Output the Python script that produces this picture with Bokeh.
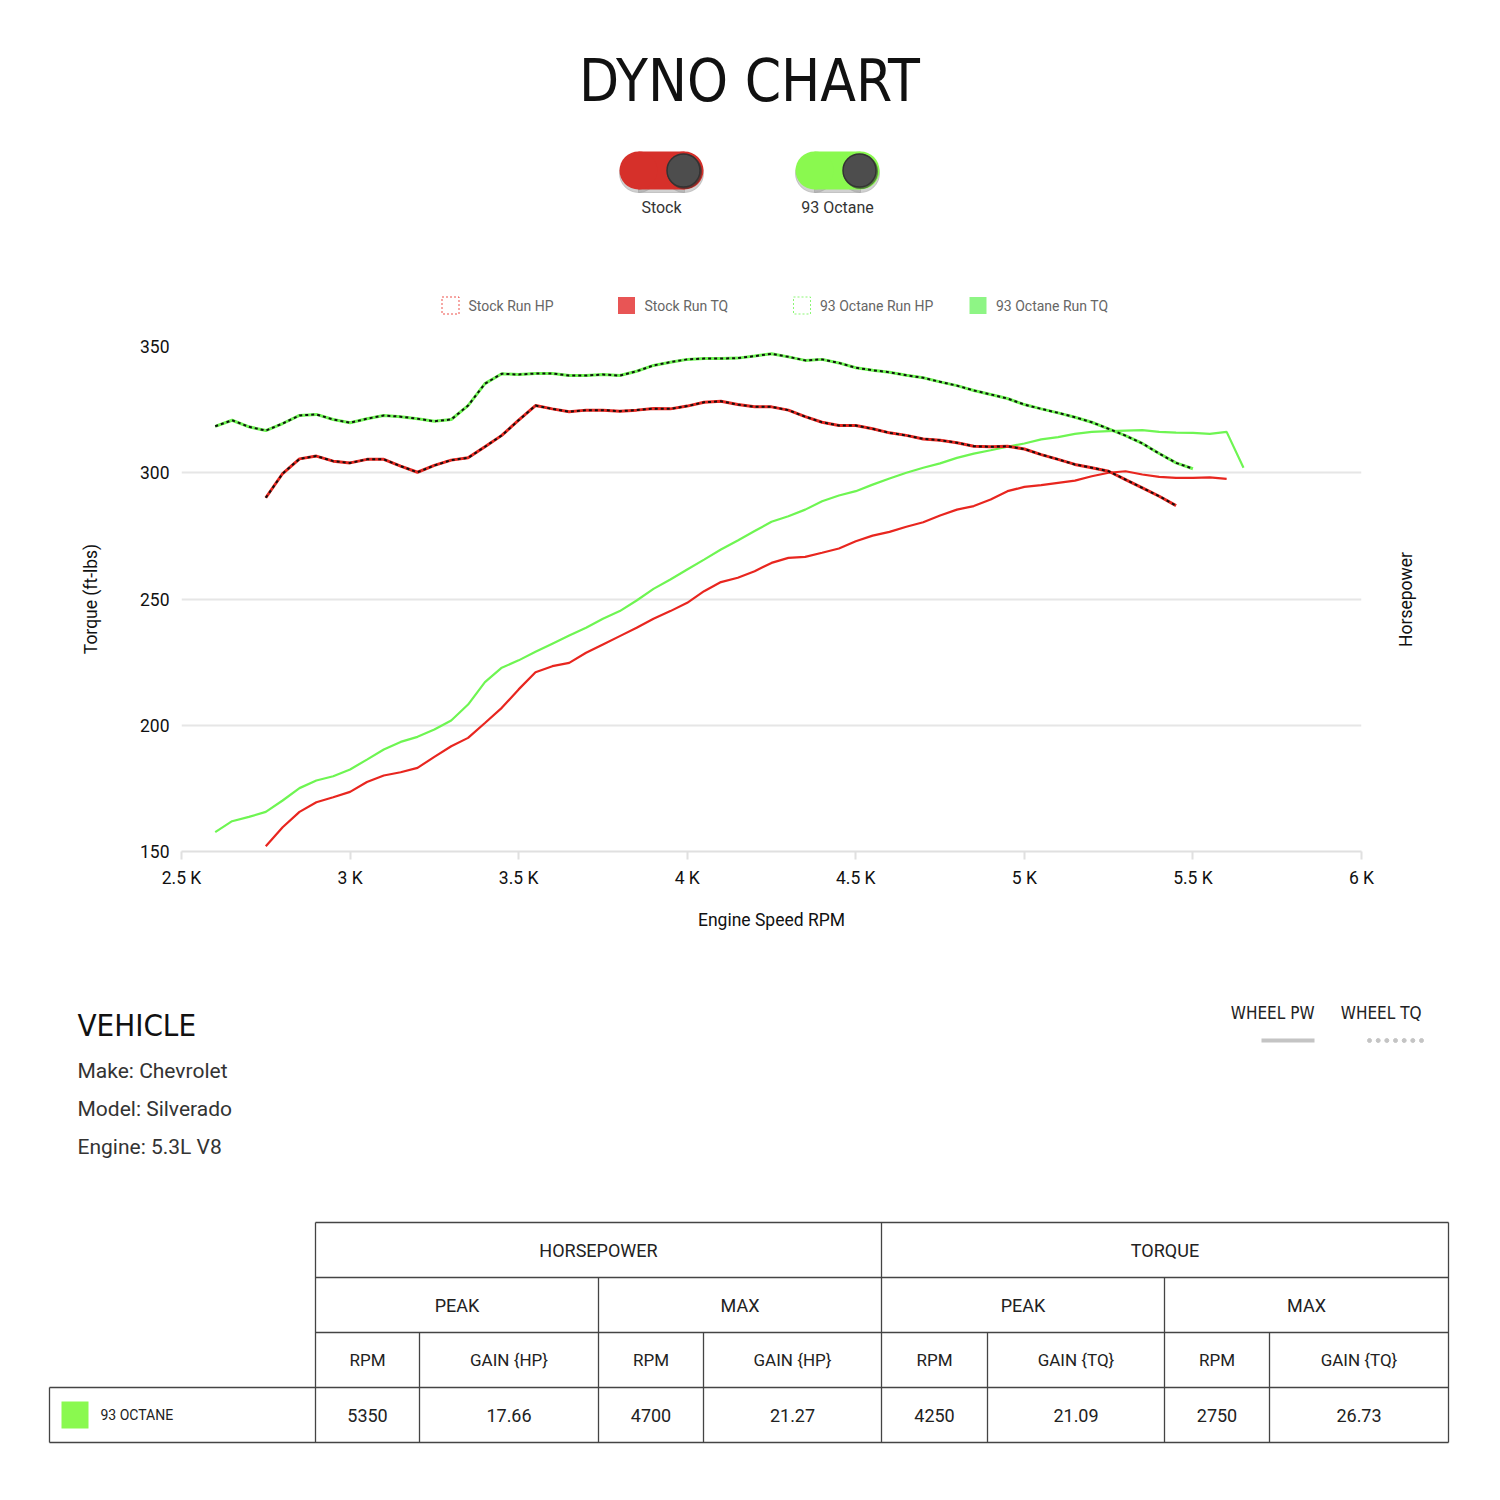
import math
from bokeh.plotting import figure
from bokeh.layouts import column, row
from bokeh.models import Range1d, FixedTicker
from bokeh.core.properties import value
from bokeh.embed import file_html
from bokeh.resources import INLINE

# ---------------- data ----------------
title_text = "DYNO CHART"
run_names = ["Stock", "93 Octane"]
legend_labels = ["Stock Run HP", "Stock Run TQ", "93 Octane Run HP", "93 Octane Run TQ"]

x_ticks = [2500, 3000, 3500, 4000, 4500, 5000, 5500, 6000]
x_tick_labels = ["2.5 K", "3 K", "3.5 K", "4 K", "4.5 K", "5 K", "5.5 K", "6 K"]
y_ticks = [150, 200, 250, 300, 350]

octane_tq_rpm = [2600, 2650, 2700, 2750, 2800, 2850, 2900, 2950, 3000, 3050, 3100, 3150, 3200,
                 3250, 3300, 3350, 3400, 3450, 3500, 3550, 3600, 3650, 3700, 3750, 3800, 3850,
                 3900, 3950, 4000, 4050, 4100, 4150, 4200, 4250, 4300, 4350, 4400, 4450, 4500,
                 4550, 4600, 4650, 4700, 4750, 4800, 4850, 4900, 4950, 5000, 5050, 5100, 5150,
                 5200, 5250, 5300, 5350, 5400, 5450, 5500, 5550, 5600, 5650]
octane_tq = [157.7, 162.0, 163.7, 165.7, 170.2, 175.1, 178.1, 179.8, 182.5, 186.4, 190.4, 193.4,
             195.4, 198.3, 201.9, 208.2, 217.1, 222.8, 225.7, 229.1, 232.3, 235.5, 238.6, 242.2,
             245.2, 249.4, 254.0, 257.7, 261.7, 265.6, 269.6, 273.2, 276.9, 280.6, 282.8, 285.4,
             288.7, 291.0, 292.7, 295.3, 297.7, 300.0, 302.0, 303.7, 305.9, 307.6, 308.9, 310.3,
             311.6, 313.2, 314.1, 315.4, 316.2, 316.5, 316.7, 316.9, 316.2, 315.9, 315.8, 315.4,
             316.2, 302.0]

stock_tq_rpm = [2750, 2800, 2850, 2900, 2950, 3000, 3050, 3100, 3150, 3200, 3250, 3300, 3350,
                3400, 3450, 3500, 3550, 3600, 3650, 3700, 3750, 3800, 3850, 3900, 3950, 4000,
                4050, 4100, 4150, 4200, 4250, 4300, 4350, 4400, 4450, 4500, 4550, 4600, 4650,
                4700, 4750, 4800, 4850, 4900, 4950, 5000, 5050, 5100, 5150, 5200, 5250, 5300,
                5350, 5400, 5450, 5500, 5550, 5600]
stock_tq = [152.1, 159.6, 165.7, 169.5, 171.5, 173.6, 177.5, 180.1, 181.4, 183.1, 187.5, 191.7,
            195.0, 200.9, 206.9, 214.2, 221.0, 223.4, 224.7, 228.7, 232.0, 235.3, 238.6, 242.2,
            245.2, 248.5, 253.1, 256.7, 258.4, 261.0, 264.3, 266.3, 266.7, 268.3, 270.0, 272.9,
            275.1, 276.6, 278.6, 280.4, 283.1, 285.4, 286.8, 289.4, 292.7, 294.4, 295.1, 296.0,
            296.9, 298.6, 300.0, 300.6, 299.3, 298.4, 298.0, 298.0, 298.2, 297.6]

octane_hp_rpm = [2600, 2650, 2700, 2750, 2800, 2850, 2900, 2950, 3000, 3050, 3100, 3150, 3200,
                 3250, 3300, 3350, 3400, 3450, 3500, 3550, 3600, 3650, 3700, 3750, 3800, 3850,
                 3900, 3950, 4000, 4050, 4100, 4150, 4200, 4250, 4300, 4350, 4400, 4450, 4500,
                 4550, 4600, 4650, 4700, 4750, 4800, 4850, 4900, 4950, 5000, 5050, 5100, 5150,
                 5200, 5250, 5300, 5350, 5400, 5450, 5500]
octane_hp = [318.4, 320.8, 318.2, 316.7, 319.5, 322.7, 323.1, 321.1, 319.8, 321.4, 322.7, 322.2,
             321.4, 320.4, 321.1, 326.6, 335.3, 339.2, 338.9, 339.3, 339.3, 338.5, 338.5, 338.9,
             338.5, 340.2, 342.5, 343.8, 344.9, 345.2, 345.2, 345.4, 346.2, 347.1, 345.9, 344.5,
             344.9, 343.5, 341.6, 340.6, 339.8, 338.6, 337.6, 336.0, 334.5, 332.6, 331.0, 329.4,
             327.0, 325.3, 323.7, 322.0, 320.0, 317.4, 314.7, 311.6, 307.6, 303.9, 301.6]

stock_hp_rpm = [2750, 2800, 2850, 2900, 2950, 3000, 3050, 3100, 3150, 3200, 3250, 3300, 3350,
                3400, 3450, 3500, 3550, 3600, 3650, 3700, 3750, 3800, 3850, 3900, 3950, 4000,
                4050, 4100, 4150, 4200, 4250, 4300, 4350, 4400, 4450, 4500, 4550, 4600, 4650,
                4700, 4750, 4800, 4850, 4900, 4950, 5000, 5050, 5100, 5150, 5200, 5250, 5300,
                5350, 5400, 5450]
stock_hp = [290.1, 299.7, 305.5, 306.6, 304.6, 303.9, 305.3, 305.3, 302.6, 300.2, 302.9, 305.0,
            305.9, 310.3, 314.8, 320.8, 326.6, 325.3, 324.2, 324.8, 324.8, 324.4, 324.8, 325.4,
            325.3, 326.4, 327.9, 328.3, 327.0, 326.1, 326.1, 324.8, 322.2, 320.0, 318.7, 318.7,
            317.4, 315.8, 314.8, 313.4, 312.9, 311.9, 310.5, 310.3, 310.5, 309.4, 307.2, 305.3,
            303.3, 302.0, 300.6, 297.3, 294.0, 290.7, 287.0]

vehicle_title = "VEHICLE"
vehicle_lines = ["Make: Chevrolet", "Model: Silverado", "Engine: 5.3L V8"]
wheel_labels = ["WHEEL PW", "WHEEL TQ"]
right_axis_label = "Horsepower"

table_groups = ["HORSEPOWER", "TORQUE"]
table_subgroups = ["PEAK", "MAX", "PEAK", "MAX"]
table_columns = ["RPM", "GAIN {HP}", "RPM", "GAIN {HP}", "RPM", "GAIN {TQ}", "RPM", "GAIN {TQ}"]
table_row_label = "93 OCTANE"
table_row_values = ["5350", "17.66", "4700", "21.27", "4250", "21.09", "2750", "26.73"]

# ---------------- styles ----------------
RED = "#e8261f"
GREEN = "#6ef552"
RED_TOGGLE = "#d6302a"
GREEN_TOGGLE = "#8af94f"
RED_LEG = "#e85555"
GREEN_LEG = "#8ef585"
COND = value("DejaVu Sans Condensed, Roboto")
ROBOTO = value("Roboto")
W = 1490


def deco(w, h, flip=True):
    yr = Range1d(h, 0) if flip else Range1d(0, h)
    f = figure(width=w, height=h, x_range=Range1d(0, w), y_range=yr,
               x_axis_type=None, y_axis_type=None, toolbar_location=None,
               output_backend="svg", min_border=0, outline_line_color=None,
               frame_align=False)
    f.grid.visible = False
    return f


# ---------------- top: title, toggles, legend ----------------
TOP_H = 326
top = deco(W, TOP_H)
top.text(x=[749], y=[80], text=[title_text], text_font=COND, text_font_size="58px",
         text_align="center", text_baseline="middle", text_color="#111111")

toggle_cx = [661, 837]
toggle_colors = [RED_TOGGLE, GREEN_TOGGLE]
for cx, col, name in zip(toggle_cx, toggle_colors, run_names):
    cy = 170
    top.rect(x=[cx], y=[cy + 3], width=46, height=38, color="#9a9a9a", alpha=0.45)
    top.circle(x=[cx - 23, cx + 23], y=[cy + 3, cy + 3], radius=19, color="#9a9a9a", alpha=0.45)
    top.rect(x=[cx], y=[cy], width=46, height=38, color=col, line_color=None)
    top.circle(x=[cx - 23, cx + 23], y=[cy, cy], radius=19, color=col, line_color=None)
    top.circle(x=[cx + 23], y=[cy + 1], radius=17.5, fill_color="#2e2e2e", line_color=None,
               alpha=0.6)
    top.circle(x=[cx + 22], y=[cy], radius=16.5, fill_color="#4d4d4d", line_color="#333333",
               line_width=1.5)
    top.text(x=[cx], y=[207], text=[name], text_font=ROBOTO, text_font_size="16px",
             text_align="center", text_baseline="middle", text_color="#333333")

leg_x = [450, 626, 801.5, 977.5]
leg_y = 305
for i, (lx, lab) in enumerate(zip(leg_x, legend_labels)):
    col_line = RED if i < 2 else GREEN
    col_fill = RED_LEG if i < 2 else GREEN_LEG
    if i % 2 == 0:
        top.rect(x=[lx], y=[leg_y], width=17, height=17, fill_color=None,
                 line_color=col_line, line_dash="2 2", line_width=1, line_alpha=0.8)
    else:
        top.rect(x=[lx], y=[leg_y], width=17, height=17, fill_color=col_fill, line_color=None)
    top.text(x=[lx + 18], y=[leg_y], text=[lab], text_font=ROBOTO, text_font_size="14px",
             text_align="left", text_baseline="middle", text_color="#666666")

# ---------------- chart ----------------
CH_H = 633
P_W = 1391
p = figure(width=P_W, height=CH_H, x_range=Range1d(2500, 6000), y_range=Range1d(150, 350),
           toolbar_location=None, output_backend="svg",
           min_border_left=181, min_border_right=30, min_border_top=20, min_border_bottom=108,
           outline_line_color=None, frame_align=False)
p.xgrid.visible = False
p.ygrid.grid_line_color = "#e6e6e6"
p.ygrid.grid_line_width = 2
p.ygrid.ticker = FixedTicker(ticks=y_ticks)

p.xaxis.ticker = FixedTicker(ticks=x_ticks)
p.xaxis.major_label_overrides = {t: l for t, l in zip(x_ticks, x_tick_labels)}
p.xaxis.axis_line_color = "#e0e0e0"
p.xaxis.axis_line_width = 2
p.xaxis.major_tick_line_color = "#e0e0e0"
p.xaxis.major_tick_line_width = 2
p.xaxis.major_tick_in = 0
p.xaxis.major_tick_out = 8
p.xaxis.minor_tick_line_color = None
p.xaxis.major_label_standoff = 8
p.xaxis.major_label_text_font = "Roboto"
p.xaxis.major_label_text_font_size = "17.5px"
p.xaxis.major_label_text_color = "#111111"
p.xaxis.axis_label = "Engine Speed RPM"
p.xaxis.axis_label_text_font = "Roboto"
p.xaxis.axis_label_text_font_size = "17.5px"
p.xaxis.axis_label_text_font_style = "normal"
p.xaxis.axis_label_text_color = "#111111"
p.xaxis.axis_label_standoff = 19

p.yaxis.ticker = FixedTicker(ticks=y_ticks)
p.yaxis.axis_line_color = None
p.yaxis.major_tick_line_color = None
p.yaxis.minor_tick_line_color = None
p.yaxis.major_label_standoff = 6
p.yaxis.major_label_text_font = "Roboto"
p.yaxis.major_label_text_font_size = "17.5px"
p.yaxis.major_label_text_color = "#111111"
p.yaxis.axis_label = "Torque (ft-lbs)"
p.yaxis.axis_label_text_font = "Roboto"
p.yaxis.axis_label_text_font_size = "17.5px"
p.yaxis.axis_label_text_font_style = "normal"
p.yaxis.axis_label_text_color = "#111111"
p.yaxis.axis_label_standoff = 36

p.line(octane_tq_rpm, octane_tq, line_color=GREEN, line_width=2.2)
p.line(stock_tq_rpm, stock_tq, line_color=RED, line_width=2.2)
p.line(octane_hp_rpm, octane_hp, line_color=GREEN, line_width=3)
p.line(octane_hp_rpm, octane_hp, line_color="#111111", line_width=2, line_dash="3 3")
p.line(stock_hp_rpm, stock_hp, line_color=RED, line_width=3)
p.line(stock_hp_rpm, stock_hp, line_color="#111111", line_width=2, line_dash="3 3")

# right-hand "Horsepower" axis title panel
R_W = W - P_W
rfig = deco(R_W, CH_H)
rfig.text(x=[14], y=[273], text=[right_axis_label], text_font=ROBOTO, text_font_size="17.5px",
          angle=math.pi / 2, text_align="center", text_baseline="middle", text_color="#111111")

# ---------------- bottom: vehicle & table ----------------
BOT_H = 532
bot = deco(W, BOT_H)
bot.text(x=[77], y=[65], text=[vehicle_title], text_font=COND, text_font_size="31px",
         text_align="left", text_baseline="middle", text_color="#111111")
for i, line in enumerate(vehicle_lines):
    bot.text(x=[77], y=[111 + 38 * i], text=[line], text_font=ROBOTO, text_font_size="21px",
             text_align="left", text_baseline="middle", text_color="#333333")

bot.text(x=[1314], y=[53], text=[wheel_labels[0]], text_font=COND, text_font_size="17px",
         text_align="right", text_baseline="middle", text_color="#222222")
bot.text(x=[1421], y=[53], text=[wheel_labels[1]], text_font=COND, text_font_size="17px",
         text_align="right", text_baseline="middle", text_color="#222222")
bot.segment(x0=[1261], y0=[81], x1=[1314], y1=[81], line_color="#c4c4c4", line_width=4)
bot.scatter(x=[1369, 1377.7, 1386.3, 1395, 1403.7, 1412.3, 1421], y=[81] * 7, size=4,
            color="#c4c4c4")

cols = [c - 1 for c in [316, 420, 599, 704, 882, 988, 1165, 1270, 1449]]
rows = [r - 960 for r in [1223, 1278, 1333, 1388, 1443]]
left_x = 49
LC = "#444444"
bot.segment(x0=[cols[0]] * 3 + [left_x] * 2, y0=rows, x1=[cols[-1]] * 5, y1=rows,
            line_color=LC, line_width=1.3)
vx0, vy0, vy1 = [], [], []
for c in [cols[0], cols[4], cols[8]]:
    vx0.append(c); vy0.append(rows[0]); vy1.append(rows[4])
for c in [cols[2], cols[6]]:
    vx0.append(c); vy0.append(rows[1]); vy1.append(rows[4])
for c in [cols[1], cols[3], cols[5], cols[7]]:
    vx0.append(c); vy0.append(rows[2]); vy1.append(rows[4])
vx0.append(left_x); vy0.append(rows[3]); vy1.append(rows[4])
bot.segment(x0=vx0, y0=vy0, x1=vx0, y1=vy1, line_color=LC, line_width=1.3)

TC = "#222222"
for i, g in enumerate(table_groups):
    cx = (cols[4 * i] + cols[4 * i + 4]) / 2
    bot.text(x=[cx], y=[(rows[0] + rows[1]) / 2], text=[g], text_font=ROBOTO,
             text_font_size="18px", text_align="center", text_baseline="middle", text_color=TC)
for i, g in enumerate(table_subgroups):
    cx = (cols[2 * i] + cols[2 * i + 2]) / 2
    bot.text(x=[cx], y=[(rows[1] + rows[2]) / 2], text=[g], text_font=ROBOTO,
             text_font_size="18px", text_align="center", text_baseline="middle", text_color=TC)
for i, g in enumerate(table_columns):
    cx = (cols[i] + cols[i + 1]) / 2
    bot.text(x=[cx], y=[(rows[2] + rows[3]) / 2], text=[g], text_font=ROBOTO,
             text_font_size="17px", text_align="center", text_baseline="middle", text_color=TC)
for i, g in enumerate(table_row_values):
    cx = (cols[i] + cols[i + 1]) / 2
    bot.text(x=[cx], y=[(rows[3] + rows[4]) / 2], text=[g], text_font=ROBOTO,
             text_font_size="18px", text_align="center", text_baseline="middle", text_color=TC)
bot.rect(x=[74.5], y=[(rows[3] + rows[4]) / 2], width=27, height=27, color=GREEN_TOGGLE,
         line_color=None)
bot.text(x=[100], y=[(rows[3] + rows[4]) / 2], text=[table_row_label], text_font=ROBOTO,
         text_font_size="14px", text_align="left", text_baseline="middle", text_color=TC)

layout = column(top, row(p, rfig, spacing=0), bot, spacing=0)
open("out.html", "w").write(file_html(layout, INLINE))
